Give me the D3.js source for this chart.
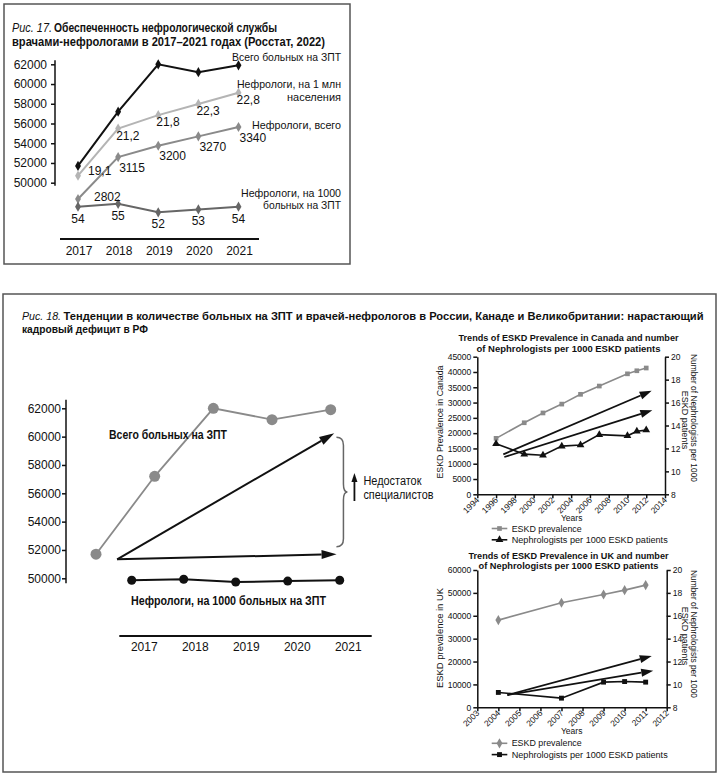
<!DOCTYPE html>
<html>
<head>
<meta charset="utf-8">
<script src="https://cdn.jsdelivr.net/npm/d3@7"></script>
<style>
body { margin: 0; background: #fff; }
text { font-family: "Liberation Sans", Arial, sans-serif; fill: #111; }
</style>
</head>
<body>
<svg id="fig" width="720" height="776"></svg>
<script>
// ---- data: Russia 2017-2021 (Rosstat) ----
var years = ["2017", "2018", "2019", "2020", "2021"];
var totalPatients = [51700, 57200, 62000, 61200, 61900];   // всего больных на ЗПТ
var nephPerMillion = [19.1, 21.2, 21.8, 22.3, 22.8];        // нефрологи на 1 млн
var nephTotal = [2802, 3115, 3200, 3270, 3340];             // нефрологи, всего
var nephPer1000 = [54, 55, 52, 53, 54];                     // нефрологи на 1000 больных
var rusTicks = [50000, 52000, 54000, 56000, 58000, 60000, 62000];

// trend arrows on fig 18 (year, patients)
var rusArrows = [
    {from: [2017.36, 51340], to: [2021.06, 60240]},
    {from: [2017.36, 51340], to: [2021.10, 51700]}
];
var rusGap = [59950, 52230];

// ---- data: Canada ----
var canYears = [1996, 1999, 2001, 2003, 2005, 2007, 2010, 2011, 2012];
var canPrev = [18300, 23400, 26600, 29500, 32700, 35400, 39400, 40400, 41300];
var canNeph = [12.4, 11.5, 11.4, 12.2, 12.3, 13.2, 13.1, 13.5, 13.6];
var canArrows = [
    {from: [1996.77, 13080], to: [2012.58, 33870]},
    {from: [1996.88, 12200], to: [2012.65, 27470]}
];

// ---- data: UK ----
var ukYears = [2004, 2007, 2009, 2010, 2011];
var ukPrev = [38100, 45700, 49300, 51200, 53400];
var ukNeph = [9.3, 8.8, 10.2, 10.25, 10.2];
var ukArrows = [
    {from: [2004.43, 5370], to: [2011.29, 22410]},
    {from: [2004.43, 5370], to: [2011.36, 15990]}
];

var svg = d3.select("#fig");

var fit = function(sel, w)
{
    return sel.attr("textLength", w).attr("lengthAdjust", "spacingAndGlyphs");
}

var arrowHead = function(g, x1, y1, x2, y2, len, wid)
{
    var a = Math.atan2(y2 - y1, x2 - x1);
    var bx = x2 - len * Math.cos(a), by = y2 - len * Math.sin(a);
    var nx = -Math.sin(a) * wid / 2, ny = Math.cos(a) * wid / 2;
    g.append("line")
        .attr("x1", x1).attr("y1", y1).attr("x2", bx).attr("y2", by)
        .attr("stroke", "#111").attr("stroke-width", g.attr("data-w"));
    g.append("path")
        .attr("d", "M" + x2 + "," + y2 + "L" + (bx + nx) + "," + (by + ny) + "L" + (bx - nx) + "," + (by - ny) + "Z")
        .attr("fill", "#111");
}

// frames
svg.append("rect").attr("x", 4).attr("y", 4).attr("width", 346).attr("height", 260)
    .attr("fill", "none").attr("stroke", "#555").attr("stroke-width", 1.5);
svg.append("rect").attr("x", 3).attr("y", 294).attr("width", 713).attr("height", 478)
    .attr("fill", "none").attr("stroke", "#555").attr("stroke-width", 1.5);

// ================= Fig 17 =================
var drawFig17 = function()
{
    var g = svg.append("g");
    fit(g.append("text").attr("x", 12).attr("y", 31.5).style("font-size", "12px")
        .style("font-style", "italic").text("Рис. 17."), 40);
    fit(g.append("text").attr("x", 54).attr("y", 31.5).style("font-size", "12px")
        .style("font-weight", "bold").text("Обеспеченность нефрологической службы"), 223);
    fit(g.append("text").attr("x", 12).attr("y", 45.5).style("font-size", "12px")
        .style("font-weight", "bold").text("врачами-нефрологами в 2017–2021 годах (Росстат, 2022)"), 313);

    var x = d3.scalePoint().domain(years).range([78, 238.5]);
    var y = d3.scaleLinear().domain([50000, 62000]).range([182.7, 64.3]);
    var yMln = d3.scaleLinear().domain([19.1, 22.8]).range([175.7, 92.7]);
    var yTot = d3.scaleLinear().domain([2802, 3340]).range([199, 127]);
    var y1000 = d3.scaleLinear().domain([52, 55]).range([212.3, 203.8]);

    var yAxis = d3.axisLeft(y).tickValues(rusTicks).tickFormat(d3.format("d")).tickSize(4).tickPadding(4);
    var ya = g.append("g").attr("transform", "translate(55,0)").call(yAxis);
    ya.select(".domain").remove();
    ya.selectAll("line").attr("stroke", "#111").attr("stroke-width", 1.5);
    ya.selectAll("text").style("font-size", "12px").attr("fill", "#111");
    g.append("line").attr("x1", 55).attr("x2", 55).attr("y1", y(62400)).attr("y2", y(49700))
        .attr("stroke", "#111").attr("stroke-width", 1.5);

    // bottom baseline + years
    g.append("line").attr("x1", 60).attr("x2", 259).attr("y1", 239).attr("y2", 239)
        .attr("stroke", "#111").attr("stroke-width", 2);
    g.selectAll(".yr").data(years).enter().append("text")
        .attr("x", function(d) { return x(d) + 1; }).attr("y", 255)
        .attr("text-anchor", "middle").style("font-size", "12px").text(function(d) { return d; });

    var diamond = d3.symbol().type(d3.symbolDiamond).size(30);
    var series = [
        {vals: totalPatients, sc: y, color: "#111"},
        {vals: nephPerMillion, sc: yMln, color: "#b4b4b4"},
        {vals: nephTotal, sc: yTot, color: "#8a8a8a"},
        {vals: nephPer1000, sc: y1000, color: "#666"}
    ];
    series.forEach(function(s)
    {
        var line = d3.line().x(function(d, i) { return x(years[i]); }).y(function(d) { return s.sc(d); });
        g.append("path").datum(s.vals).attr("d", line)
            .attr("fill", "none").attr("stroke", s.color).attr("stroke-width", 2);
        g.selectAll(null).data(s.vals).enter().append("path")
            .attr("d", diamond)
            .attr("transform", function(d, i) { return "translate(" + x(years[i]) + "," + s.sc(d) + ")"; })
            .attr("fill", s.color);
    });

    var fmt = function(v) { return String(v).replace(".", ","); };
    g.selectAll(null).data(nephPerMillion).enter().append("text")
        .attr("x", function(d, i) { return x(years[i]) + (i == 0 ? 10 : -2); })
        .attr("y", function(d, i) { return yMln(d) + (i == 0 ? -1 : 11); })
        .style("font-size", "12px").text(fmt);
    g.selectAll(null).data(nephTotal).enter().append("text")
        .attr("x", function(d, i) { return x(years[i]) + (i == 0 ? 16 : 1); })
        .attr("y", function(d, i) { return yTot(d) + (i == 0 ? 1.5 : 14.5); })
        .style("font-size", "12px").text(function(d) { return d; });
    g.selectAll(null).data(nephPer1000).enter().append("text")
        .attr("x", function(d, i) { return x(years[i]); })
        .attr("y", function(d, i) { return y1000(d) + 16; })
        .attr("text-anchor", "middle").style("font-size", "12px").text(function(d) { return d; });

    var names = [
        ["Всего больных на ЗПТ", 61, 109],
        ["Нефрологи, на 1 млн", 88, 104],
        ["населения", 101, 54],
        ["Нефрологи, всего", 129, 89],
        ["Нефрологи, на 1000", 196.5, 100],
        ["больных на ЗПТ", 209, 78]
    ];
    names.forEach(function(n)
    {
        fit(g.append("text").attr("x", 341).attr("y", n[1]).attr("text-anchor", "end")
            .style("font-size", "11.5px").text(n[0]), n[2]);
    });
}

// ================= Fig 18 left =================
var drawFig18 = function()
{
    var g = svg.append("g");
    fit(g.append("text").attr("x", 22).attr("y", 320).style("font-size", "11.5px")
        .style("font-style", "italic").text("Рис. 18."), 39);
    fit(g.append("text").attr("x", 63.5).attr("y", 320).style("font-size", "11px").style("font-weight", "bold")
        .text("Тенденции в количестве больных на ЗПТ и врачей-нефрологов в России, Канаде и Великобритании: нарастающий"), 640);
    fit(g.append("text").attr("x", 22).attr("y", 332.5).style("font-size", "11.5px").style("font-weight", "bold")
        .text("кадровый дефицит в РФ"), 126);

    var y = d3.scaleLinear().domain([50000, 62000]).range([578.3, 408.3]);
    var xTot = d3.scalePoint().domain(years).range([96, 330.7]);
    var xLin = d3.scaleLinear().domain([2017, 2021]).range([96, 330.7]);
    var xNeph = d3.scalePoint().domain(years).range([131.7, 339.7]);
    var xLab = d3.scalePoint().domain(years).range([144.3, 348.3]);
    var y1000 = d3.scaleLinear().domain([52, 55]).range([582, 579.3]);

    var ya = g.append("g").attr("transform", "translate(66,0)")
        .call(d3.axisLeft(y).tickValues(rusTicks).tickFormat(d3.format("d")).tickSize(4).tickPadding(1));
    ya.select(".domain").remove();
    ya.selectAll("line").attr("stroke", "#111").attr("stroke-width", 1.5);
    ya.selectAll("text").style("font-size", "12px").attr("fill", "#111");
    g.append("line").attr("x1", 66).attr("x2", 66).attr("y1", y(62600)).attr("y2", y(49650))
        .attr("stroke", "#111").attr("stroke-width", 1.5);

    g.append("line").attr("x1", 119.3).attr("x2", 371.7).attr("y1", 636).attr("y2", 636)
        .attr("stroke", "#111").attr("stroke-width", 2);
    g.selectAll(".yr").data(years).enter().append("text")
        .attr("x", function(d) { return xLab(d); }).attr("y", 650.5)
        .attr("text-anchor", "middle").style("font-size", "12px").text(function(d) { return d; });

    var lTot = d3.line().x(function(d, i) { return xTot(years[i]); }).y(function(d) { return y(d); });
    g.append("path").datum(totalPatients).attr("d", lTot)
        .attr("fill", "none").attr("stroke", "#8a8a8a").attr("stroke-width", 1.8);
    g.selectAll(null).data(totalPatients).enter().append("circle")
        .attr("cx", function(d, i) { return xTot(years[i]); }).attr("cy", function(d) { return y(d); })
        .attr("r", 5.5).attr("fill", "#8a8a8a");

    var lN = d3.line().x(function(d, i) { return xNeph(years[i]); }).y(function(d) { return y1000(d); });
    g.append("path").datum(nephPer1000).attr("d", lN)
        .attr("fill", "none").attr("stroke", "#111").attr("stroke-width", 2);
    g.selectAll(null).data(nephPer1000).enter().append("circle")
        .attr("cx", function(d, i) { return xNeph(years[i]); }).attr("cy", function(d) { return y1000(d); })
        .attr("r", 4.5).attr("fill", "#111");

    fit(g.append("text").attr("x", 109).attr("y", 438.5).style("font-size", "12px").style("font-weight", "bold")
        .text("Всего больных на ЗПТ"), 118);
    fit(g.append("text").attr("x", 131).attr("y", 605).style("font-size", "12px").style("font-weight", "bold")
        .text("Нефрологи, на 1000 больных на ЗПТ"), 195);

    var ag = g.append("g").attr("data-w", 2);
    rusArrows.forEach(function(a)
    {
        arrowHead(ag, xLin(a.from[0]), y(a.from[1]), xLin(a.to[0]), y(a.to[1]), 15, 9);
    });

    // brace showing the gap
    var bx = xLin(2021.2) + 1, y1 = y(rusGap[0]), y2 = y(rusGap[1]), ym = (y1 + y2) / 2, r = 8;
    var p = d3.path();
    p.moveTo(bx - 7, y1);
    p.quadraticCurveTo(bx, y1, bx, y1 + r);
    p.lineTo(bx, ym - r);
    p.quadraticCurveTo(bx, ym, bx + 4, ym);
    p.quadraticCurveTo(bx, ym, bx, ym + r);
    p.lineTo(bx, y2 - r);
    p.quadraticCurveTo(bx, y2, bx - 7, y2);
    g.append("path").attr("d", p.toString()).attr("fill", "none").attr("stroke", "#666").attr("stroke-width", 1.5);

    var ug = g.append("g").attr("data-w", 1.8);
    arrowHead(ug, bx + 11, ym + 9, bx + 11, ym - 19, 9, 6);
    fit(g.append("text").attr("x", bx + 20).attr("y", ym - 7).style("font-size", "12px").text("Недостаток"), 58);
    fit(g.append("text").attr("x", bx + 20).attr("y", ym + 6.5).style("font-size", "12px").text("специалистов"), 70);
}

// ================= right panels =================
var drawPanel = function(o)
{
    var g = svg.append("g");
    fit(g.append("text").attr("x", 568.5).attr("y", o.top).attr("text-anchor", "middle")
        .style("font-size", "9px").style("font-weight", "bold").text(o.title1), o.w1);
    fit(g.append("text").attr("x", 568.5).attr("y", o.top + 10.5).attr("text-anchor", "middle")
        .style("font-size", "9px").style("font-weight", "bold").text("of Nephrologists per 1000 ESKD patients"), o.w2);

    var x = d3.scaleLinear().domain(o.xDom).range([477.3, o.xRight]);
    var yL = d3.scaleLinear().domain([0, o.yMax]).range([o.bottom, o.yTop]);
    var yR = d3.scaleLinear().domain([8, 20]).range([o.bottom, o.yTop]);

    var axL = g.append("g").attr("transform", "translate(477.3,0)")
        .call(d3.axisLeft(yL).tickValues(d3.range(0, o.yMax + 1, o.yStep)).tickFormat(d3.format("d")).tickSize(4).tickSizeOuter(0).tickPadding(2));
    var axR = g.append("g").attr("transform", "translate(" + o.xRight + ",0)")
        .call(d3.axisRight(yR).tickValues(d3.range(8, 21, 2)).tickSize(4).tickSizeOuter(0).tickPadding(2));
    var axB = g.append("g").attr("transform", "translate(0," + o.bottom + ")")
        .call(d3.axisBottom(x).tickValues(d3.range(o.xDom[0], o.xDom[1] + 1, o.xStep)).tickFormat(d3.format("d")).tickSize(4).tickSizeOuter(0));
    [axL, axR, axB].forEach(function(a)
    {
        a.selectAll("path, line").attr("stroke", "#111").attr("stroke-width", 1.5);
        a.selectAll("text").style("font-size", "8.5px").attr("fill", "#111");
    });
    axB.selectAll("text").attr("x", -3).attr("y", 3).attr("dy", "0.35em")
        .attr("transform", "rotate(-45)").style("text-anchor", "end");

    fit(g.append("text").attr("transform", "translate(443," + o.midL + ") rotate(-90)")
        .attr("text-anchor", "middle").style("font-size", "9px").text(o.leftTitle), o.wL);
    fit(g.append("text").attr("transform", "translate(690.5," + (o.midL - 4) + ") rotate(90)")
        .attr("text-anchor", "middle").style("font-size", "9px").text("Number of Nephrologists per 1000"), 128);
    g.append("text").attr("transform", "translate(682," + (o.midL - 2) + ") rotate(90)")
        .attr("text-anchor", "middle").style("font-size", "9px").text("ESKD patients");
    g.append("text").attr("x", 571.7).attr("y", o.bottom + 27).attr("text-anchor", "middle")
        .style("font-size", "8.5px").text("Years");

    // series
    var lp = d3.line().x(function(d, i) { return x(o.yrs[i]); }).y(function(d) { return yL(d); });
    g.append("path").datum(o.prev).attr("d", lp).attr("fill", "none").attr("stroke", "#8a8a8a").attr("stroke-width", 1.6);
    var mk1 = d3.symbol().type(o.sym1).size(o.sz1);
    g.selectAll(null).data(o.prev).enter().append("path").attr("d", mk1)
        .attr("transform", function(d, i) { return "translate(" + x(o.yrs[i]) + "," + yL(d) + ")"; })
        .attr("fill", "#8a8a8a");

    var ln = d3.line().x(function(d, i) { return x(o.yrs[i]); }).y(function(d) { return yR(d); });
    g.append("path").datum(o.neph).attr("d", ln).attr("fill", "none").attr("stroke", "#111").attr("stroke-width", 1.6);
    var mk2 = d3.symbol().type(o.sym2).size(o.sz2);
    g.selectAll(null).data(o.neph).enter().append("path").attr("d", mk2)
        .attr("transform", function(d, i) { return "translate(" + x(o.yrs[i]) + "," + yR(d) + ")"; })
        .attr("fill", "#111");

    var ag = g.append("g").attr("data-w", 1.8);
    o.arrows.forEach(function(a)
    {
        arrowHead(ag, x(a.from[0]), yL(a.from[1]), x(a.to[0]), yL(a.to[1]), 12, 8);
    });

    // legend
    var lg = g.append("g");
    var items = [
        {name: "ESKD prevalence", color: "#8a8a8a", sym: mk1, w: 70},
        {name: "Nephrologists per 1000 ESKD patients", color: "#111", sym: mk2, w: 156}
    ];
    items.forEach(function(it, i)
    {
        var ly = o.legY + i * 11.3;
        lg.append("line").attr("x1", 491.7).attr("x2", 507.3).attr("y1", ly).attr("y2", ly)
            .attr("stroke", it.color).attr("stroke-width", 1.6);
        lg.append("path").attr("d", it.sym).attr("transform", "translate(499.5," + ly + ")").attr("fill", it.color);
        fit(lg.append("text").attr("x", 511.7).attr("y", ly + 3).style("font-size", "8.5px").text(it.name), it.w);
    });
}

drawFig17();
drawFig18();
drawPanel({
    top: 341, title1: "Trends of ESKD Prevalence in Canada and number", w1: 220, w2: 184,
    xDom: [1994, 2014], xStep: 2, xRight: 665, yMax: 45000, yStep: 5000, yTop: 356.7, bottom: 494.3,
    leftTitle: "ESKD Prevalence in Canada", wL: 113, midL: 422,
    yrs: canYears, prev: canPrev, neph: canNeph,
    sym1: d3.symbolSquare, sz1: 22, sym2: d3.symbolTriangle, sz2: 26,
    arrows: canArrows, legY: 528.5
});
drawPanel({
    top: 558.5, title1: "Trends of ESKD Prevalence in UK and number", w1: 200, w2: 180,
    xDom: [2003, 2012], xStep: 1, xRight: 666.7, yMax: 60000, yStep: 10000, yTop: 570, bottom: 707.3,
    leftTitle: "ESKD prevalence in UK", wL: 100, midL: 638,
    yrs: ukYears, prev: ukPrev, neph: ukNeph,
    sym1: d3.symbolDiamond, sz1: 30, sym2: d3.symbolSquare, sz2: 24,
    arrows: ukArrows, legY: 743.3
});
</script>
</body>
</html>
